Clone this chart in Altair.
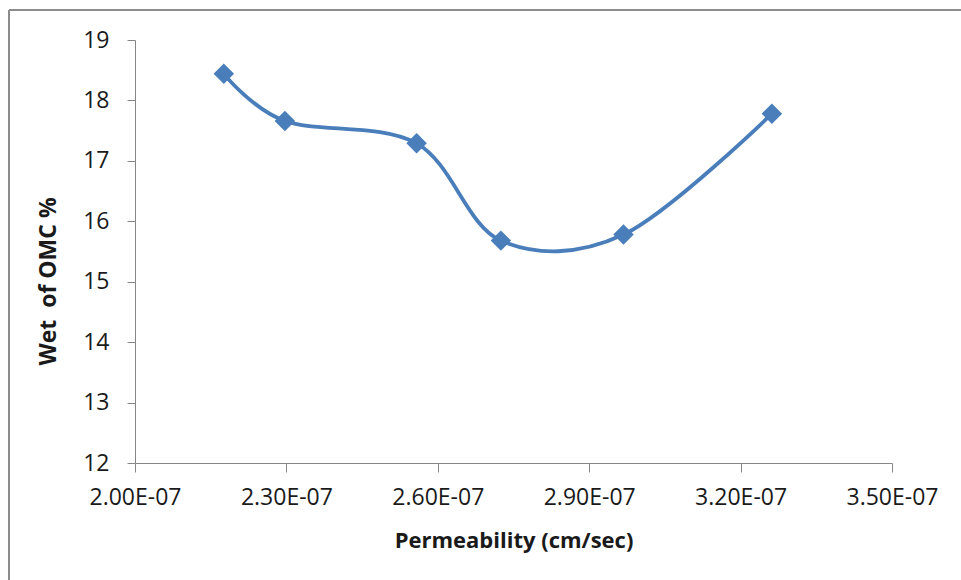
import altair as alt
import pandas as pd

# Measured permeability (cm/sec) against water content wet of OMC (%)
permeability = [2.176e-7, 2.297e-7, 2.558e-7, 2.725e-7, 2.968e-7, 3.262e-7]
wet_omc = [18.44, 17.66, 17.29, 15.68, 15.78, 17.78]

x_ticks = [2.0e-7, 2.3e-7, 2.6e-7, 2.9e-7, 3.2e-7, 3.5e-7]
y_ticks = [12, 13, 14, 15, 16, 17, 18, 19]

df = pd.DataFrame({"perm": permeability, "wet": wet_omc})

FONT = "Open Sans"
BLUE = "#4A7EBB"
AXIS_GREY = "#868686"

x_enc = alt.X(
    "perm:Q",
    scale=alt.Scale(domain=[2.0e-7, 3.5e-7], nice=False, zero=False),
    axis=alt.Axis(
        values=x_ticks,
        labelExpr="format(datum.value * 1e7, '.2f') + 'E-07'",
        labelFlush=False,
        labelOverlap=False,
        labelBound=False,
        title="Permeability (cm/sec)",
        titleY=84,
        titleBaseline="alphabetic",
        titleFontSize=22,
        grid=False,
        tickSize=9,
        labelPadding=14,
        labelBaseline="top",
    ),
)
y_enc = alt.Y(
    "wet:Q",
    scale=alt.Scale(domain=[12, 19], nice=False, zero=False),
    axis=alt.Axis(
        values=y_ticks,
        format="d",
        labelFlush=False,
        labelOverlap=False,
        title="Wet \u00a0of OMC %",
        titleAngle=270,
        titleX=-87,
        titleY=241,
        titleAlign="center",
        titleBaseline="middle",
        titleFontSize=23,
        grid=False,
        tickSize=8,
        labelPadding=18,
    ),
)

curve = alt.Chart(df).mark_line(
    interpolate="cardinal", color=BLUE, strokeWidth=3.8
).encode(x=x_enc, y=y_enc)

markers = alt.Chart(df).mark_point(
    shape="diamond", filled=True, color=BLUE, size=420, opacity=1
).encode(x="perm:Q", y="wet:Q")

# Outer frame around the chart area
frame_src = pd.DataFrame({"k": [0]})
frame_left = alt.Chart(frame_src).mark_rule(color="#8c8c8c", strokeWidth=2).encode(
    x=alt.value(-126), y=alt.value(-30), y2=alt.value(620)
)
frame_top = alt.Chart(frame_src).mark_rule(color="#8c8c8c", strokeWidth=2).encode(
    x=alt.value(-126), x2=alt.value(900), y=alt.value(-30)
)

chart = (
    alt.layer(frame_left, frame_top, curve, markers)
    .properties(
        width=757,
        height=423,
        padding={"left": 135, "top": 40, "right": 69, "bottom": 117},
        autosize="none",
        background="white",
    )
    .configure_view(stroke=None)
    .configure_axis(
        domainColor=AXIS_GREY,
        tickColor=AXIS_GREY,
        domainWidth=1,
        tickWidth=1,
        labelFont=FONT,
        labelFontSize=23,
        labelColor="#1a1a1a",
        titleFont=FONT,
        titleFontWeight="bold",
        titleColor="#1a1a1a",
    )
)

chart.save("out.html", embed_options={"renderer": "svg", "actions": False})
